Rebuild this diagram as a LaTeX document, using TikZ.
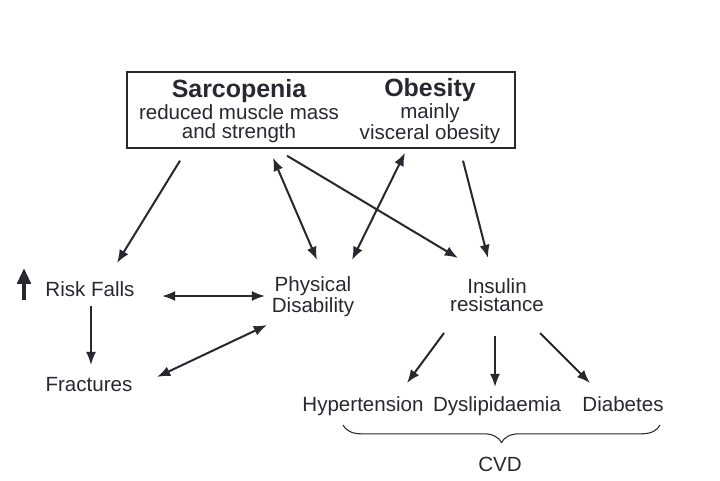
\documentclass[tikz,border=0pt]{standalone}
\usepackage{fontspec}
\setmainfont{Liberation Sans}
\usetikzlibrary{arrows.meta}
\usetikzlibrary{decorations.pathreplacing}

\definecolor{ink}{RGB}{40,40,48}

\tikzset{
    txt/.style={inner sep=0pt, align=center, text=ink, font=\fontsize{11.7}{10.6}\selectfont},
    arr/.style={-{Latex[length=7.5pt,width=5.8pt]}, line width=1.15pt, color=ink},
    dbl/.style={{Latex[length=7.5pt,width=5.8pt]}-{Latex[length=7.5pt,width=5.8pt]}, line width=1.15pt, color=ink},
}
\newcommand{\ttl}[1]{{\fontsize{14.2}{13}\selectfont\bfseries #1}}

\begin{document}
\begin{tikzpicture}[x=0.02cm, y=-0.02cm]
    \useasboundingbox ({0}, {0}) rectangle ({720}, {480});

    % Top box
    \node[draw=ink, line width=0.8pt, minimum width=7.76cm, minimum height=1.52cm] (box) at ({321}, {110}) {};
    \node[txt] (sarc) at ({239}, {111}) {\ttl{Sarcopenia}\\reduced muscle mass\\and strength};
    \node[txt] (obes) at ({430}, {111}) {\ttl{Obesity}\\mainly\\visceral obesity};

    % Middle row
    \node[txt, anchor=base] (rf) at ({90}, {296}) {Risk Falls};
    \node[txt] (pd) at ({313}, {297}) {Physical\\Disability};
    \node[txt] (ir) at ({497}, {295}) {Insulin\\resistance};
    \node[txt, anchor=base] (fr) at ({89}, {391}) {Fractures};
    \draw[-{Triangle[length=9pt,width=7.5pt]}, line width=2.6pt, color=ink]
        ([shift={(-66,4)}]rf.base) to ([shift={(-66,-28)}]rf.base);

    % Bottom row
    \node[txt, anchor=base] (hyp) at ({363}, {411}) {Hypertension};
    \node[txt, anchor=base] (dys) at ({497}, {411}) {Dyslipidaemia};
    \node[txt, anchor=base] (dia) at ({623}, {411}) {Diabetes};
    \node[txt, anchor=base] (cvd) at ({500}, {471}) {CVD};
    \draw[decorate, decoration={brace, mirror, amplitude=10pt}, line width=0.6pt, color=ink]
        ([shift={(-20,14)}]hyp.base) to ([shift={(37,14)}]dia.base);

    % Arrows from the box
    \draw[arr] ([shift={(-141,12)}]box.south) to ([shift={(27,-33)}]rf.base);
    \draw[dbl] ([shift={(-48,9)}]box.south) to ([shift={(4,-37)}]pd.center);
    \draw[arr] ([shift={(-34,7)}]box.south) to ([shift={(-39,-37)}]ir.center);
    \draw[dbl] ([shift={(84,4)}]box.south) to ([shift={(39,-37)}]pd.center);
    \draw[arr] ([shift={(142,12)}]box.south) to ([shift={(-9,-37)}]ir.center);

    % Arrows between the rows
    \draw[dbl] ([shift={(72,0)}]rf.base) to ([shift={(-48,-1)}]pd.center);
    \draw[arr] ([shift={(1,10)}]rf.base) to ([shift={(2,-26)}]fr.base);
    \draw[dbl] ([shift={(68,-14)}]fr.base) to ([shift={(-46,28)}]pd.center);
    \draw[arr] ([shift={(-53,38)}]ir.center) to ([shift={(44,-28)}]hyp.base);
    \draw[arr] ([shift={(-2,41)}]ir.center) to ([shift={(-2,-24)}]dys.base);
    \draw[arr] ([shift={(43,38)}]ir.center) to ([shift={(-33,-28)}]dia.base);
\end{tikzpicture}
\end{document}
